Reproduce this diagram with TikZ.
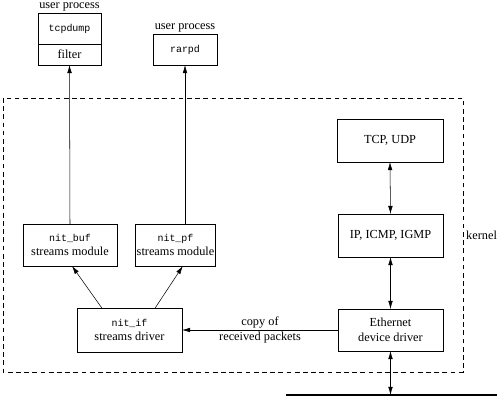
\documentclass[tikz,border=0pt]{standalone}
\usepackage{fontspec}
\setmainfont{Liberation Serif}
\setmonofont{Liberation Mono}
\usetikzlibrary{positioning,arrows.meta}

\newcommand{\prog}[1]{{\fontsize{8.5}{10}\selectfont\ttfamily #1}}

\tikzset{
    box/.style={draw, line width=0.5pt, outer sep=0pt, align=center, inner sep=1pt},
    arr/.style={-{Latex[length=7pt, width=4pt]}, line width=0.45pt},
    darr/.style={{Latex[length=7pt, width=4pt]}-{Latex[length=7pt, width=4pt]}, line width=0.45pt}
}

\begin{document}
\begin{tikzpicture}[x=0.03cm, y=-0.03cm, font=\fontsize{10.5}{12.5}\selectfont]
        \useasboundingbox (0,0) rectangle (500,407);

        % kernel boundary
        \draw[dashed, line width=0.5pt, dash pattern=on 4pt off 3pt] (3,98) rectangle (463,372);
        \node[anchor=west, inner sep=0pt] (kernel) at (466,235) {kernel};

        % user processes
        \node[box, minimum width=1.89cm, minimum height=0.93cm] (tcpdump) at (69.5,28.5) {\prog{tcpdump}};
        \node[box, minimum width=1.89cm, minimum height=0.63cm, below=0pt of tcpdump] (filter) {filter};
        \node[above=1pt of tcpdump, inner sep=0pt] (user1) {user process};
        \node[box, minimum width=1.92cm, minimum height=0.93cm] (rarpd) at (185,49.5) {\prog{rarpd}};
        \node[above=1pt of rarpd, inner sep=0pt] (user2) {user process};

        % NIT modules
        \node[box, minimum width=2.82cm, minimum height=1.26cm] (nitbuf) at (70,245) {\prog{nit\_buf}\\streams module};
        \node[box, minimum width=2.25cm, minimum height=1.26cm] (nitpf) at (175.5,245) {\prog{nit\_pf}\\streams module};
        \node[box, minimum width=3.15cm, minimum height=1.32cm] (nitif) at (129.5,330) {\prog{nit\_if}\\streams driver};

        % protocol stack
        \node[box, minimum width=3.18cm, minimum height=1.29cm] (tcpudp) at (390,140.5) {TCP, UDP};
        \node[box, minimum width=3.15cm, minimum height=1.29cm] (ip) at (390.5,235.5) {IP, ICMP, IGMP};
        \node[box, minimum width=3.15cm, minimum height=1.26cm] (eth) at (390.5,330) {Ethernet\\device driver};

        % Ethernet cable
        \coordinate (cableL) at (286,395);
        \coordinate (cableR) at (497,395);
        \draw[line width=2.2pt] (cableL) -- (cableR);

        % Arrows
        \draw[arr] (nitbuf.north) -- (filter.south);
        \draw[arr] (nitpf.north -| rarpd) -- (rarpd.south);
        \draw[arr] ([xshift=-0.83cm]nitif.north) -- ([xshift=0.06cm]nitbuf.south);
        \draw[arr] ([xshift=0.77cm]nitif.north) -- ([xshift=0.22cm]nitpf.south);
        \draw[arr] (eth.west) -- (nitif.east);
        \node[align=center, inner sep=0pt] (copy) at (260,330) {copy of\\received packets};
        \draw[darr] (tcpudp.south) -- (ip.north);
        \draw[darr] (ip.south) -- (eth.north);
        \draw[darr] (eth.south) -- (eth.south |- cableL);
    \end{tikzpicture}
\end{document}
